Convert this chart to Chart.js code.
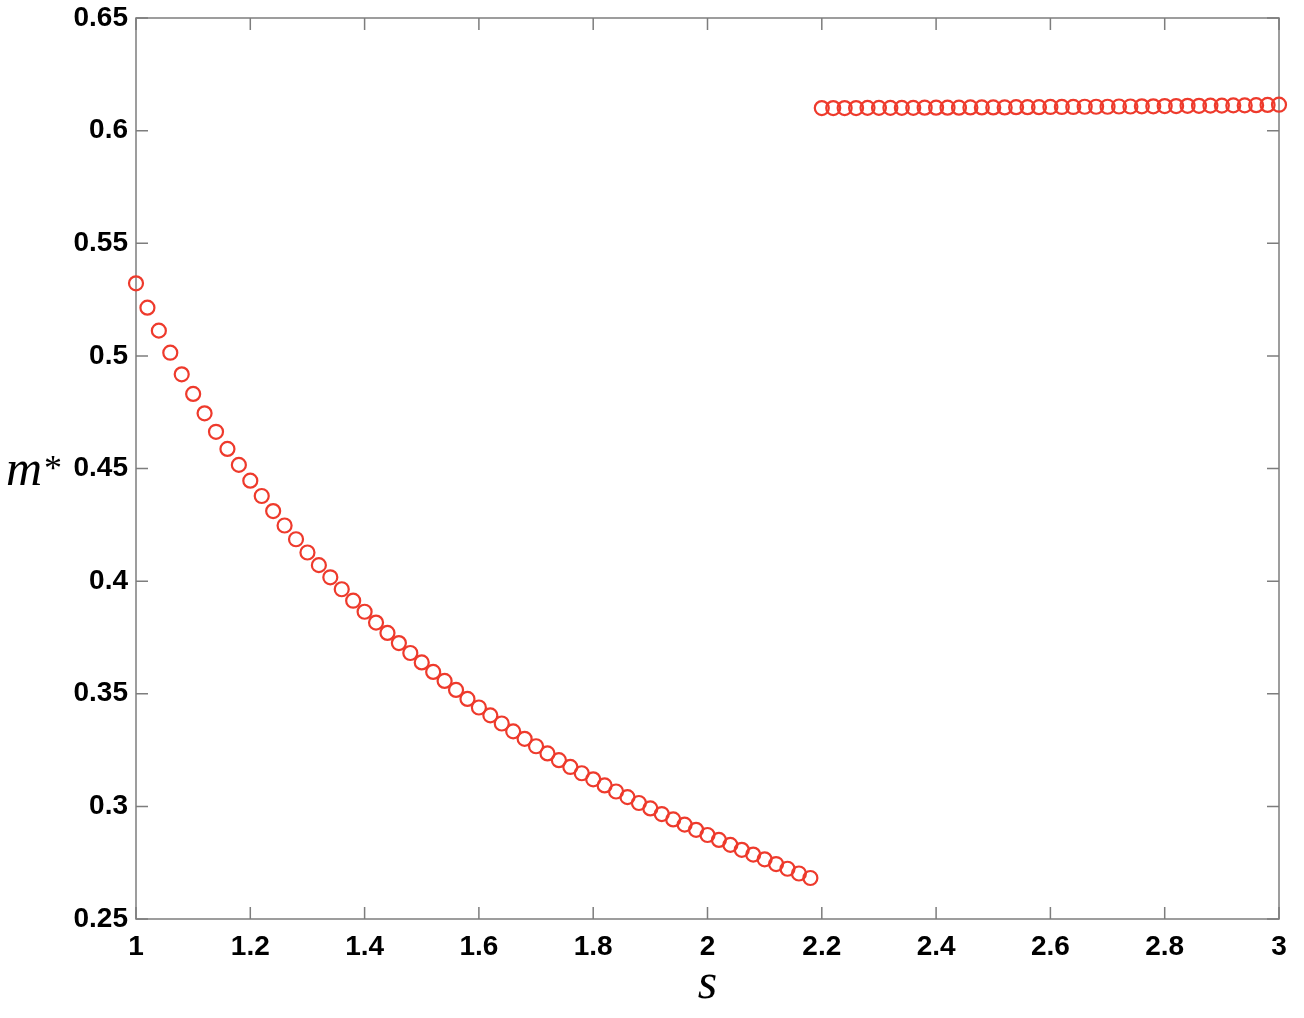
<!DOCTYPE html>
<html>
<head>
<meta charset="utf-8">
<script src="https://cdn.jsdelivr.net/npm/chart.js@4.4.0/dist/chart.umd.min.js"></script>
<style>
  html, body { margin: 0; padding: 0; background: #fff; }
  #wrap { width: 1304px; height: 1018px; }
</style>
</head>
<body>
<div id="wrap"><canvas id="chart"></canvas></div>
<script>
// lower branch (s = 1.00 .. 2.18)
const sLow = [
  1.00, 1.02, 1.04, 1.06, 1.08, 1.10, 1.12, 1.14, 1.16, 1.18,
  1.20, 1.22, 1.24, 1.26, 1.28, 1.30, 1.32, 1.34, 1.36, 1.38,
  1.40, 1.42, 1.44, 1.46, 1.48, 1.50, 1.52, 1.54, 1.56, 1.58,
  1.60, 1.62, 1.64, 1.66, 1.68, 1.70, 1.72, 1.74, 1.76, 1.78,
  1.80, 1.82, 1.84, 1.86, 1.88, 1.90, 1.92, 1.94, 1.96, 1.98,
  2.00, 2.02, 2.04, 2.06, 2.08, 2.10, 2.12, 2.14, 2.16, 2.18
];
const mLow = [
  0.5322, 0.5214, 0.5112, 0.5014, 0.4918, 0.4831, 0.4745, 0.4663, 0.4587, 0.4516,
  0.4446, 0.4378, 0.4311, 0.4247, 0.4186, 0.4127, 0.4071, 0.4017, 0.3964, 0.3913,
  0.3864, 0.3816, 0.3770, 0.3725, 0.3681, 0.3639, 0.3597, 0.3557, 0.3517, 0.3477,
  0.3439, 0.3404, 0.3368, 0.3333, 0.3300, 0.3267, 0.3235, 0.3205, 0.3175, 0.3147,
  0.3120, 0.3093, 0.3066, 0.3041, 0.3015, 0.2991, 0.2966, 0.2942, 0.2919, 0.2896,
  0.2873, 0.2851, 0.2829, 0.2807, 0.2786, 0.2765, 0.2744, 0.2723, 0.2702, 0.2682
];
// upper branch (s = 2.20 .. 3.00)
const sHigh = [
  2.20, 2.22, 2.24, 2.26, 2.28, 2.30, 2.32, 2.34, 2.36, 2.38,
  2.40, 2.42, 2.44, 2.46, 2.48, 2.50, 2.52, 2.54, 2.56, 2.58,
  2.60, 2.62, 2.64, 2.66, 2.68, 2.70, 2.72, 2.74, 2.76, 2.78,
  2.80, 2.82, 2.84, 2.86, 2.88, 2.90, 2.92, 2.94, 2.96, 2.98,
  3.00
];
const mHigh = [
  0.6100, 0.6100, 0.6100, 0.6100, 0.6101, 0.6101, 0.6101, 0.6101, 0.6101, 0.6102,
  0.6102, 0.6102, 0.6102, 0.6103, 0.6103, 0.6103, 0.6103, 0.6104, 0.6104, 0.6104,
  0.6105, 0.6105, 0.6105, 0.6106, 0.6106, 0.6106, 0.6107, 0.6107, 0.6108, 0.6108,
  0.6109, 0.6109, 0.6110, 0.6110, 0.6111, 0.6111, 0.6112, 0.6112, 0.6113, 0.6114,
  0.6115
];
const xTicks = [1, 1.2, 1.4, 1.6, 1.8, 2, 2.2, 2.4, 2.6, 2.8, 3];
const yTicks = [0.25, 0.3, 0.35, 0.4, 0.45, 0.5, 0.55, 0.6, 0.65];

const markerColor = '#ee3a2c';
const axisColor = '#7d7d7d';
const tickLen = 12;

function toPoints(xs, ys) {
  return xs.map((s, i) => ({ x: s, y: ys[i] }));
}
function fmt(v) {
  return String(parseFloat(Number(v).toFixed(2)));
}

// MATLAB style box with inward ticks, plus the horizontal m* label
const boxAxes = {
  id: 'boxAxes',
  beforeDatasetsDraw(chart) {
    const { ctx, chartArea: a, scales: { x, y } } = chart;
    ctx.save();
    ctx.strokeStyle = axisColor;
    ctx.lineWidth = 1.5;
    ctx.strokeRect(a.left, a.top, a.right - a.left, a.bottom - a.top);
    ctx.beginPath();
    xTicks.forEach(v => {
      const px = x.getPixelForValue(v);
      ctx.moveTo(px, a.bottom); ctx.lineTo(px, a.bottom - tickLen);
      ctx.moveTo(px, a.top); ctx.lineTo(px, a.top + tickLen);
    });
    yTicks.forEach(v => {
      const py = y.getPixelForValue(v);
      ctx.moveTo(a.left, py); ctx.lineTo(a.left + tickLen, py);
      ctx.moveTo(a.right, py); ctx.lineTo(a.right - tickLen, py);
    });
    ctx.stroke();
    ctx.restore();
  },
  afterDraw(chart) {
    const { ctx, chartArea: a } = chart;
    const cy = (a.top + a.bottom) / 2;
    ctx.save();
    ctx.fillStyle = '#000';
    ctx.textBaseline = 'alphabetic';
    ctx.textAlign = 'left';
    ctx.font = 'italic 50px "Liberation Serif", serif';
    ctx.fillText('m', 6, cy + 16);
    const w = ctx.measureText('m').width;
    ctx.font = '36px "Liberation Serif", serif';
    ctx.fillText('*', 6 + w + 2, cy + 11);
    ctx.restore();
  }
};

const tickFont = { family: '"Liberation Sans", Arial, sans-serif', size: 28, weight: 'bold' };

new Chart(document.getElementById('chart'), {
  type: 'scatter',
  data: {
    datasets: [
      {
        data: toPoints(sLow, mLow),
        borderColor: markerColor,
        backgroundColor: 'rgba(0,0,0,0)',
        pointRadius: 7,
        pointBorderWidth: 2.2,
        clip: false
      },
      {
        data: toPoints(sHigh, mHigh),
        borderColor: markerColor,
        backgroundColor: 'rgba(0,0,0,0)',
        pointRadius: 7,
        pointBorderWidth: 2.2,
        clip: false
      }
    ]
  },
  options: {
    responsive: true,
    maintainAspectRatio: false,
    animation: false,
    layout: { padding: { top: 18, right: 25, left: 0, bottom: 0 } },
    plugins: {
      legend: { display: false },
      tooltip: { enabled: false }
    },
    scales: {
      x: {
        type: 'linear',
        min: 1,
        max: 3,
        afterBuildTicks: (scale) => { scale.ticks = xTicks.map(v => ({ value: v })); },
        afterFit: (scale) => { scale.height = 99; scale.paddingLeft = 0; scale.paddingRight = 0; },
        grid: { display: false, drawTicks: false },
        border: { display: false },
        ticks: {
          color: '#000',
          font: tickFont,
          padding: 11,
          maxRotation: 0,
          autoSkip: false,
          callback: (v) => fmt(v)
        },
        title: {
          display: true,
          text: 's',
          color: '#000',
          font: { family: '"Liberation Serif", serif', style: 'italic', size: 50, lineHeight: 1 },
          padding: { top: 0, bottom: 8 }
        }
      },
      y: {
        type: 'linear',
        min: 0.25,
        max: 0.65,
        afterBuildTicks: (scale) => { scale.ticks = yTicks.map(v => ({ value: v })); },
        afterFit: (scale) => { scale.width = 136; scale.paddingTop = 0; scale.paddingBottom = 0; },
        grid: { display: false, drawTicks: false },
        border: { display: false },
        ticks: {
          color: '#000',
          font: tickFont,
          padding: 8,
          autoSkip: false,
          callback: (v) => fmt(v)
        }
      }
    }
  },
  plugins: [boxAxes]
});
</script>
</body>
</html>
